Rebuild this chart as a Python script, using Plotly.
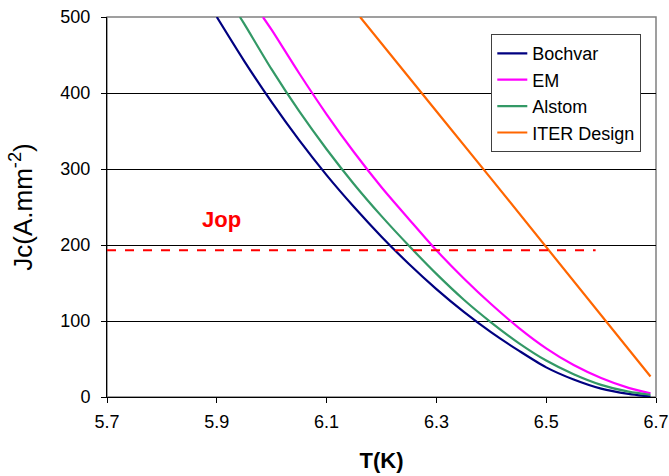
import plotly.graph_objects as go

T_boch = [5.90, 5.95, 6.00, 6.05, 6.10, 6.15, 6.20, 6.25, 6.30, 6.35, 6.40, 6.45, 6.50, 6.55, 6.60, 6.65, 6.69]
J_boch = [500, 442, 388, 338, 292, 250, 211, 175, 142, 112, 85, 61, 39, 23, 11, 4, 0.5]

T_em = [5.984, 6.00, 6.05, 6.10, 6.15, 6.20, 6.25, 6.30, 6.35, 6.40, 6.45, 6.50, 6.55, 6.60, 6.65, 6.69]
J_em = [500, 483, 426, 372, 322, 276, 234, 193, 156, 122, 91, 64, 42, 25, 12, 5]

T_al = [5.942, 5.95, 6.00, 6.05, 6.10, 6.15, 6.20, 6.25, 6.30, 6.35, 6.40, 6.45, 6.50, 6.55, 6.60, 6.65, 6.69]
J_al = [500, 491, 431, 376, 326, 280, 238, 199, 162, 128, 98, 71, 48, 30, 16, 7, 3]

T_iter = [6.161, 6.25, 6.30, 6.40, 6.50, 6.60, 6.69]
J_iter = [500, 420, 376, 287, 197, 108, 27]

T_jop = [5.70, 6.59]
J_jop = [193, 193]

x_ticks = [5.7, 5.9, 6.1, 6.3, 6.5, 6.7]
y_ticks = [0, 100, 200, 300, 400, 500]

FONT = "Liberation Sans, Arial, sans-serif"

fig = go.Figure()
fig.add_trace(go.Scatter(x=T_boch, y=J_boch, mode="lines", name="Bochvar",
                         line=dict(color="#000080", width=2.2, shape="spline", smoothing=0.8)))
fig.add_trace(go.Scatter(x=T_em, y=J_em, mode="lines", name="EM",
                         line=dict(color="#FF00FF", width=2.2, shape="spline", smoothing=0.8)))
fig.add_trace(go.Scatter(x=T_al, y=J_al, mode="lines", name="Alstom",
                         line=dict(color="#339966", width=2.2, shape="spline", smoothing=0.8)))
fig.add_trace(go.Scatter(x=T_iter, y=J_iter, mode="lines", name="ITER Design",
                         line=dict(color="#FF6600", width=2.2)))
fig.add_trace(go.Scatter(x=T_jop, y=J_jop, mode="lines", showlegend=False,
                         line=dict(color="#FF0000", width=2, dash="dash")))

fig.add_annotation(x=5.909, y=233, text="<b>Jop</b>", showarrow=False,
                   font=dict(family=FONT, size=22, color="#FF0000"))

fig.add_shape(type="rect", xref="paper", yref="paper", x0=0, x1=1, y0=0, y1=1,
              line=dict(color="#808080", width=1.5), layer="below")

fig.update_layout(
    width=669, height=476,
    margin=dict(l=107, r=13, t=17, b=79),
    paper_bgcolor="white", plot_bgcolor="white",
    font=dict(family=FONT, size=18, color="black"),
    legend=dict(x=0.70, y=0.955, xanchor="left", yanchor="top",
                bordercolor="#404040", borderwidth=1, bgcolor="white",
                font=dict(size=18), tracegroupgap=0, itemwidth=30),
    xaxis=dict(range=[5.7, 6.7], tickvals=x_ticks, ticktext=[f"{v:.1f}" for v in x_ticks],
               showgrid=False, showline=True, linecolor="black", linewidth=1,
               ticks="outside", ticklen=5, tickcolor="black", zeroline=False,
               automargin=False, tickfont=dict(size=18), ticklabelstandoff=3,
               title=dict(text="<b>T(K)</b>", font=dict(size=22), standoff=22)),
    yaxis=dict(range=[0, 500], tickvals=y_ticks, showgrid=True, gridcolor="black", gridwidth=1,
               showline=True, linecolor="black", linewidth=1,
               ticks="outside", ticklen=5, tickcolor="black", zeroline=False,
               automargin=False, tickfont=dict(size=18), ticklabelstandoff=7,
               title=dict(text="Jc(A.mm<sup>-2</sup>)", font=dict(size=26), standoff=20)),
)

fig.write_html("out.html")
